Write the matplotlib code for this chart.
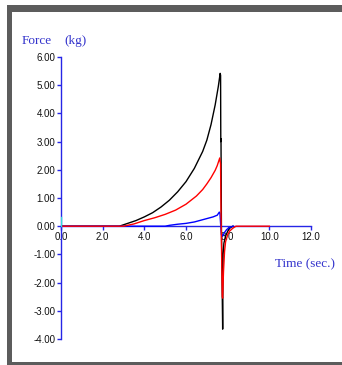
import matplotlib
matplotlib.use("Agg")
import matplotlib.pyplot as plt
from matplotlib.patches import Rectangle

# ---- data -------------------------------------------------------------
black_t = [0.0, 2.8, 3.2, 3.6, 4.0, 4.4, 4.8, 5.2, 5.6, 6.0, 6.4, 6.8, 7.0,
           7.2, 7.4, 7.55, 7.64, 7.66, 7.67, 7.68, 7.70, 7.76, 7.78, 7.82,
           7.9, 8.0, 8.1, 8.25]
black_v = [0.0, 0.0, 0.1, 0.2, 0.33, 0.48, 0.68, 0.92, 1.22, 1.58, 2.05,
           2.65, 3.05, 3.6, 4.3, 4.95, 5.42, 5.35, 3.0, 3.1, 0.0, -3.65,
           -1.0, -0.6, -0.35, -0.18, -0.07, 0.0]

blue_t = [0.0, 5.0, 5.2, 5.6, 6.0, 6.4, 6.7, 7.0, 7.3, 7.5, 7.6, 7.63,
          7.66, 7.70, 7.76, 7.85, 7.95, 8.1, 8.27]
blue_v = [0.0, 0.0, 0.03, 0.07, 0.1, 0.15, 0.21, 0.27, 0.33, 0.39, 0.5,
          0.45, 0.1, -0.3, -0.35, -0.22, -0.12, -0.04, 0.0]

red_t = [0.0, 3.0, 3.5, 4.0, 4.5, 5.0, 5.5, 6.0, 6.5, 6.8, 7.0, 7.2, 7.4,
         7.5, 7.62, 7.66, 7.68, 7.72, 7.74, 7.76, 7.80, 7.85, 7.9, 8.0,
         8.1, 8.25, 8.4, 10.0]
red_v = [0.0, 0.0, 0.08, 0.2, 0.3, 0.42, 0.57, 0.78, 1.07, 1.3, 1.5, 1.72,
         1.98, 2.15, 2.42, 2.2, 0.5, -1.5, -2.5, -2.55, -1.6, -0.9, -0.55,
         -0.3, -0.17, -0.07, 0.0, 0.0]

cyan_t = [0.0, 0.0]
cyan_v = [0.0, 0.33]

x_ticks = [0.0, 2.0, 4.0, 6.0, 8.0, 10.0, 12.0]
y_ticks = [-4.0, -3.0, -2.0, -1.0, 0.0, 1.0, 2.0, 3.0, 4.0, 5.0, 6.0]

# ---- figure -----------------------------------------------------------
W, H = 342, 365
fig = plt.figure(figsize=(W / 100, H / 100), dpi=100)
fig.patch.set_facecolor("white")


def fx(px):
    return px / W


def fy(py):
    return 1 - py / H


# dark window frame (top, left, bottom)
frame = "#5c5c5c"
fig.add_artist(Rectangle((fx(7), fy(12)), fx(342 - 7), 7 / H,
                         transform=fig.transFigure, color=frame, lw=0))
fig.add_artist(Rectangle((fx(7), fy(364.5)), 5 / W, (364.5 - 5) / H,
                         transform=fig.transFigure, color=frame, lw=0))
fig.add_artist(Rectangle((fx(7), fy(364.5)), fx(342 - 7), 3 / H,
                         transform=fig.transFigure, color=frame, lw=0))

ax_left, ax_right, ax_top, ax_bot = 61, 311, 57, 339
ax = fig.add_axes([fx(ax_left), fy(ax_bot), (ax_right - ax_left) / W,
                   (ax_bot - ax_top) / H])
ax.set_facecolor("none")
ax.set_xlim(0, 12)
ax.set_ylim(-4, 6)

axis_blue = "#2626e6"
for s in ("top", "right"):
    ax.spines[s].set_visible(False)
ax.spines["left"].set_color(axis_blue)
ax.spines["bottom"].set_color(axis_blue)
ax.spines["left"].set_linewidth(1.0)
ax.spines["bottom"].set_linewidth(1.0)
ax.spines["bottom"].set_position(("data", 0))

ax.set_xticks(x_ticks)
ax.set_yticks(y_ticks)
ax.set_xticklabels([f"{v:.1f}" for v in x_ticks])
ax.set_yticklabels([f"{v:.2f}" for v in y_ticks])
ax.tick_params(axis="both", direction="out", length=3, width=1.0,
               color=axis_blue, labelsize=7, labelcolor="#111111")
ax.tick_params(axis="y", pad=1)
ax.tick_params(axis="x", pad=1.5)
for lab in ax.get_xticklabels() + ax.get_yticklabels():
    lab.set_family(["Liberation Sans", "DejaVu Sans"])

ax.plot(black_t, black_v, color="black", lw=1.0, zorder=3)
ax.plot(blue_t, blue_v, color="#0000ff", lw=1.0, zorder=4)
ax.plot(red_t, red_v, color="#ff0000", lw=1.0, zorder=5)
ax.plot(cyan_t, cyan_v, color="#33dddd", lw=1.0, zorder=6)

title_blue = "#3333cc"
fig.text(fx(22), fy(44), "Force", color=title_blue, fontsize=9.5,
         family=["Liberation Serif", "DejaVu Serif"], ha="left", va="baseline")
fig.text(fx(64), fy(44), "(kg)", color=title_blue, fontsize=9.5,
         family=["Liberation Serif", "DejaVu Serif"], ha="left", va="baseline")
fig.text(fx(275), fy(267), "Time (sec.)", color=title_blue, fontsize=9.5,
         family=["Liberation Serif", "DejaVu Serif"], ha="left", va="baseline")

fig.savefig("out.png", dpi=100, facecolor="white")
